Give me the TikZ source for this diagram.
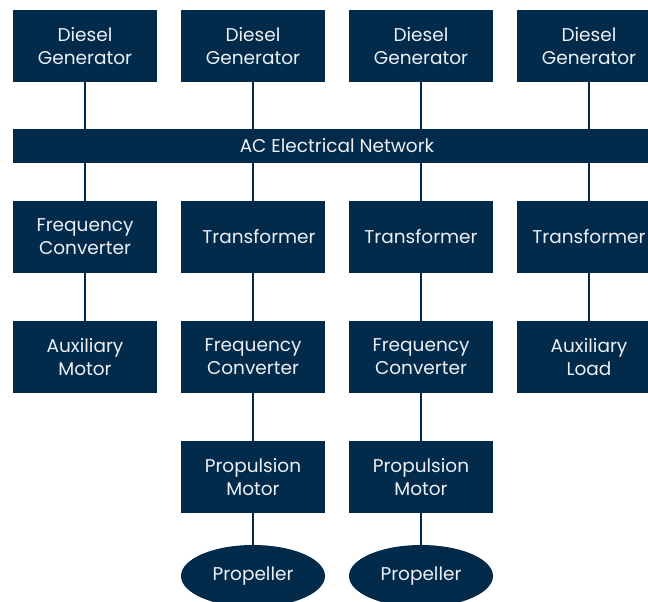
\documentclass[tikz,border=0pt]{standalone}
\usepackage{fontspec}
\setmainfont{Poppins}
\usetikzlibrary{shapes.geometric}
\definecolor{navy}{RGB}{2,42,74}
\definecolor{paper}{RGB}{236,239,243}
\begin{document}
\begin{tikzpicture}[x=1pt,y=-1pt]
\tikzstyle{every node}+=[inner sep=0pt, text=paper, align=center, font=\fontsize{18.5}{23}\selectfont]
\tikzstyle{unit}=[fill=navy, minimum width=144pt, minimum height=72pt]
\tikzstyle{wire}=[navy, line width=1.5pt]
\clip (0,0) rectangle (648,602);
% generators
\node [unit] (dg1) at (85,46) {Diesel\\Generator};
\node [unit] (dg2) at (253,46) {Diesel\\Generator};
\node [unit] (dg3) at (421,46) {Diesel\\Generator};
\node [unit] (dg4) at (589,46) {Diesel\\Generator};
% bus
\node [fill=navy, minimum width=648pt, minimum height=34pt] (bus) at (337,146) {AC Electrical Network};
% second row
\node [unit] (fc1) at (85,237) {Frequency\\Converter};
\node [unit] (tr2) at (253,237) {\hspace*{12pt}Transformer};
\node [unit] (tr3) at (421,237) {Transformer};
\node [unit] (tr4) at (589,237) {Transformer};
% third row
\node [unit] (am1) at (85,357) {Auxiliary\\Motor};
\node [unit] (fc2) at (253,357) {Frequency\\Converter};
\node [unit] (fc3) at (421,357) {Frequency\\Converter};
\node [unit] (al4) at (589,357) {Auxiliary\\Load};
% propulsion
\node [unit] (pm2) at (253,477) {Propulsion\\Motor};
\node [unit] (pm3) at (421,477) {Propulsion\\Motor};
\node [ellipse, fill=navy, minimum width=144pt, minimum height=62pt] (pr2) at (253,576) {Propeller};
\node [ellipse, fill=navy, minimum width=144pt, minimum height=62pt] (pr3) at (421,576) {Propeller};
% wires
\draw [wire] (dg1) -- (dg1 |- bus.north);
\draw [wire] (dg2) -- (dg2 |- bus.north);
\draw [wire] (dg3) -- (dg3 |- bus.north);
\draw [wire] (dg4) -- (dg4 |- bus.north);
\draw [wire] (fc1 |- bus.south) -- (fc1);
\draw [wire] (tr2 |- bus.south) -- (tr2);
\draw [wire] (tr3 |- bus.south) -- (tr3);
\draw [wire] (tr4 |- bus.south) -- (tr4);
\draw [wire] (fc1) -- (am1);
\draw [wire] (tr2) -- (fc2);
\draw [wire] (tr3) -- (fc3);
\draw [wire] (tr4) -- (al4);
\draw [wire] (fc2) -- (pm2);
\draw [wire] (fc3) -- (pm3);
\draw [wire] (pm2) -- (pr2);
\draw [wire] (pm3) -- (pr3);
\end{tikzpicture}
\end{document}
